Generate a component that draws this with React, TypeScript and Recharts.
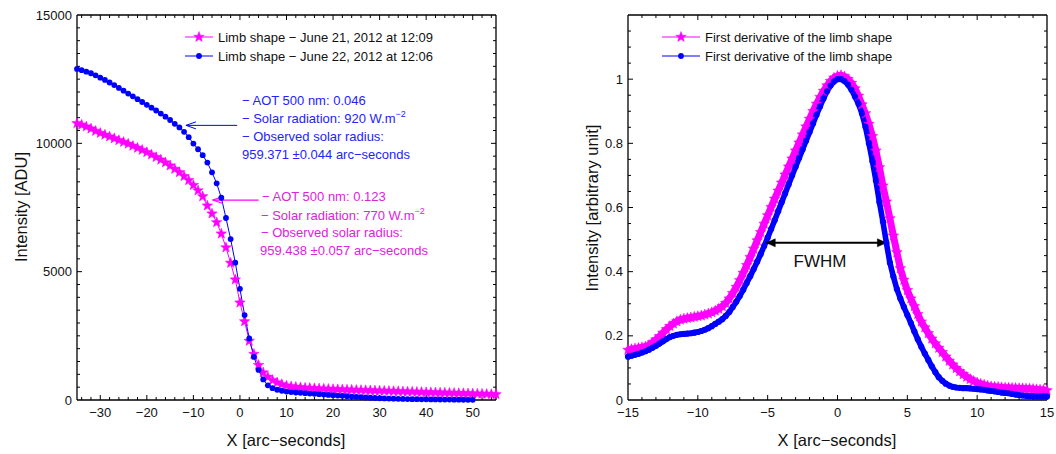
import React from "react";
import { LineChart, Line, XAxis, YAxis, ReferenceLine } from "recharts";

const MAGENTA = "#ff00ff";
const BLUE = "#0000ff";
const MAGENTA_TEXT = "#dd22dd";
const BLUE_TEXT = "#2323ff";
const FONT = "'Liberation Sans', Arial, Helvetica, sans-serif";

// ---- left panel: limb shapes ----
const LIMB_X_21 = [
  -35, -34, -33, -32, -31, -30, -29, -28, -27, -26, -25, -24, -23, -22, -21, -20, -19, -18, -17, -16,
  -15, -14, -13, -12, -11, -10, -9, -8, -7, -6, -5, -4, -3, -2, -1, 0, 1, 2, 3, 4, 5, 6, 7, 8, 9, 10,
  11, 12, 13, 14, 15, 16, 17, 18, 19, 20, 21, 22, 23, 24, 25, 26, 27, 28, 29, 30, 31, 32, 33, 34, 35,
  36, 37, 38, 39, 40, 41, 42, 43, 44, 45, 46, 47, 48, 49, 50, 51, 52, 53, 54, 55,
];
const LIMB_21 = [
  10780, 10720, 10650, 10570, 10480, 10400, 10330, 10260, 10190, 10120, 10050, 9980, 9900, 9820, 9740,
  9650, 9560, 9460, 9360, 9250, 9130, 9000, 8870, 8720, 8560, 8370, 8160, 7930, 7570, 7260, 6920, 6480,
  5940, 5340, 4690, 3790, 3060, 2300, 1790, 1360, 1070, 900, 770, 680, 610, 560, 530, 505, 490, 475,
  465, 455, 446, 437, 428, 420, 414, 408, 401, 395, 390, 384, 378, 372, 366, 360, 354, 348, 343, 337,
  331, 325, 319, 313, 307, 301, 296, 291, 286, 281, 276, 270, 265, 260, 255, 250, 244, 238, 232, 226, 220,
];
const LIMB_X_22 = [
  -35, -34, -33, -32, -31, -30, -29, -28, -27, -26, -25, -24, -23, -22, -21, -20, -19, -18, -17, -16,
  -15, -14, -13, -12, -11, -10, -9, -8, -7, -6, -5, -4, -3, -2, -1, 0, 1, 2, 3, 4, 5, 6, 7, 8, 9, 10,
  11, 12, 13, 14, 15, 16, 17, 18, 19, 20, 21, 22, 23, 24, 25, 26, 27, 28, 29, 30, 31, 32, 33, 34, 35,
  36, 37, 38, 39, 40, 41, 42, 43, 44, 45, 46, 47, 48, 49, 50,
];
const LIMB_22 = [
  12900, 12850, 12790, 12730, 12650, 12560, 12470, 12370, 12270, 12160, 12050, 11940, 11830, 11720,
  11610, 11500, 11390, 11280, 11160, 11040, 10910, 10760, 10620, 10450, 10240, 9990, 9770, 9540, 9250,
  8870, 8440, 7880, 7090, 6270, 5350, 4330, 3310, 2400, 1680, 1170, 800, 570, 460, 400, 360, 330, 310,
  293, 278, 264, 252, 240, 226, 212, 199, 186, 174, 162, 148, 134, 122, 110, 98, 88, 78, 68, 62, 56, 50,
  45, 40, 37, 34, 31, 28, 25, 23, 21, 19, 17, 15, 13, 11, 9, 7, 5,
];

// ---- right panel: first derivatives ----
const DERIV_X = [
  -15, -14.75, -14.5, -14.25, -14, -13.75, -13.5, -13.25, -13, -12.75, -12.5, -12.25, -12, -11.75, -11.5,
  -11.25, -11, -10.75, -10.5, -10.25, -10, -9.75, -9.5, -9.25, -9, -8.75, -8.5, -8.25, -8, -7.75, -7.5,
  -7.25, -7, -6.75, -6.5, -6.25, -6, -5.75, -5.5, -5.25, -5, -4.75, -4.5, -4.25, -4, -3.75, -3.5, -3.25,
  -3, -2.75, -2.5, -2.25, -2, -1.75, -1.5, -1.25, -1, -0.75, -0.5, -0.25, 0, 0.25, 0.5, 0.75, 1, 1.25,
  1.5, 1.75, 2, 2.25, 2.5, 2.75, 3, 3.25, 3.5, 3.75, 4, 4.25, 4.5, 4.75, 5, 5.25, 5.5, 5.75, 6, 6.25,
  6.5, 6.75, 7, 7.25, 7.5, 7.75, 8, 8.25, 8.5, 8.75, 9, 9.25, 9.5, 9.75, 10, 10.25, 10.5, 10.75, 11,
  11.25, 11.5, 11.75, 12, 12.25, 12.5, 12.75, 13, 13.25, 13.5, 13.75, 14, 14.25, 14.5, 14.75, 15,
];
const DERIV_21 = [
  0.156, 0.158, 0.16, 0.162, 0.164, 0.166, 0.171, 0.179, 0.188, 0.198, 0.209, 0.22, 0.23, 0.238, 0.245,
  0.25, 0.253, 0.255, 0.257, 0.259, 0.261, 0.263, 0.266, 0.269, 0.273, 0.278, 0.284, 0.292, 0.302, 0.316,
  0.333, 0.352, 0.373, 0.396, 0.42, 0.445, 0.471, 0.497, 0.523, 0.549, 0.575, 0.601, 0.627, 0.652, 0.677,
  0.702, 0.727, 0.752, 0.777, 0.802, 0.827, 0.852, 0.876, 0.9, 0.923, 0.944, 0.963, 0.98, 0.994, 1.004,
  1.01, 1.012, 1.008, 1.0, 0.988, 0.971, 0.948, 0.921, 0.893, 0.86, 0.822, 0.777, 0.725, 0.668, 0.618,
  0.566, 0.512, 0.46, 0.41, 0.374, 0.342, 0.316, 0.292, 0.267, 0.244, 0.226, 0.208, 0.191, 0.176, 0.162,
  0.149, 0.135, 0.122, 0.11, 0.099, 0.089, 0.08, 0.072, 0.065, 0.059, 0.054, 0.05, 0.047, 0.044, 0.042,
  0.041, 0.04, 0.039, 0.038, 0.038, 0.037, 0.037, 0.036, 0.036, 0.035, 0.035, 0.034, 0.033, 0.032, 0.031,
  0.03,
];
const DERIV_22 = [
  0.135, 0.138, 0.141, 0.144, 0.148, 0.152, 0.157, 0.163, 0.169, 0.176, 0.183, 0.19, 0.196, 0.2, 0.203,
  0.205, 0.206, 0.207, 0.208, 0.21, 0.212, 0.215, 0.219, 0.224, 0.23, 0.237, 0.244, 0.252, 0.262, 0.274,
  0.29, 0.306, 0.324, 0.344, 0.365, 0.386, 0.408, 0.431, 0.455, 0.48, 0.506, 0.533, 0.56, 0.588, 0.616,
  0.644, 0.672, 0.7, 0.727, 0.754, 0.781, 0.808, 0.835, 0.862, 0.889, 0.915, 0.94, 0.962, 0.98, 0.993,
  1.0, 1.0, 0.994, 0.983, 0.967, 0.946, 0.923, 0.893, 0.852, 0.8, 0.744, 0.684, 0.617, 0.556, 0.49,
  0.428, 0.385, 0.346, 0.316, 0.29, 0.265, 0.24, 0.214, 0.189, 0.166, 0.145, 0.125, 0.105, 0.087, 0.071,
  0.06, 0.051, 0.045, 0.041, 0.039, 0.038, 0.037, 0.037, 0.036, 0.035, 0.034, 0.033, 0.032, 0.03, 0.028,
  0.027, 0.025, 0.023, 0.022, 0.021, 0.019, 0.017, 0.015, 0.014, 0.013, 0.012, 0.012, 0.011, 0.011,
  0.011, 0.011,
];

// tick labels
const LEFT_X_MAJOR = [-30, -20, -10, 0, 10, 20, 30, 40, 50];
const LEFT_Y_MAJOR = [0, 5000, 10000, 15000];
const RIGHT_X_MAJOR = [-15, -10, -5, 0, 5, 10, 15];
const RIGHT_Y_MAJOR = [0, 0.2, 0.4, 0.6, 0.8, 1];

const limb21 = LIMB_X_21.map((x, i) => ({ x, y: LIMB_21[i] }));
const limb22 = LIMB_X_22.map((x, i) => ({ x, y: LIMB_22[i] }));
const deriv21 = DERIV_X.map((x, i) => ({ x, y: DERIV_21[i] }));
const deriv22 = DERIV_X.map((x, i) => ({ x, y: DERIV_22[i] }));

function range(a: number, b: number, step: number) {
  const out: number[] = [];
  for (let v = a; v <= b + 1e-9; v += step) out.push(Math.round(v * 1000) / 1000);
  return out;
}

const isMajor = (majors: number[], v: number) => majors.some((m) => Math.abs(m - v) < 1e-6);
const fmt = (v: number) => (v < 0 ? "\u2212" + Math.abs(v) : String(v));

// labels only (default tickSize 6 + tickMargin 2 puts props 8px off the axis line)
function labelTick(side: "bottom" | "left") {
  return (props: any) => {
    const v = props.payload.value;
    const x = Number(props.x);
    const y = Number(props.y);
    if (side === "bottom")
      return (
        <text x={x} y={y + 9} textAnchor="middle" fontSize={13} fill="#111" fontFamily={FONT}>
          {fmt(v)}
        </text>
      );
    return (
      <text x={x + 3} y={y + 4.5} textAnchor="end" fontSize={13} fill="#111" fontFamily={FONT}>
        {fmt(v)}
      </text>
    );
  };
}

// inward tick stubs at both ends of a full-height / full-width segment
function stubShape(vertical: boolean, major: boolean) {
  const len = major ? 5 : 3;
  return (p: any) => {
    const x1 = Number(p.x1), y1 = Number(p.y1), x2 = Number(p.x2), y2 = Number(p.y2);
    if (vertical) {
      const top = Math.min(y1, y2);
      const bot = Math.max(y1, y2);
      return (
        <g>
          <line x1={x1} y1={bot} x2={x1} y2={bot - len} stroke="#000" strokeWidth={1} />
          <line x1={x1} y1={top} x2={x1} y2={top + len} stroke="#000" strokeWidth={1} />
        </g>
      );
    }
    const l = Math.min(x1, x2);
    const r = Math.max(x1, x2);
    return (
      <g>
        <line x1={l} y1={y1} x2={l + len} y2={y1} stroke="#000" strokeWidth={1} />
        <line x1={r} y1={y1} x2={r - len} y2={y1} stroke="#000" strokeWidth={1} />
      </g>
    );
  };
}

const boxEdge = (p: any) => <line x1={p.x1} y1={p.y1} x2={p.x2} y2={p.y2} stroke="#000" strokeWidth={1.3} />;

function starPoints(cx: number, cy: number, R: number, r: number) {
  const pts: string[] = [];
  for (let k = 0; k < 10; k++) {
    const a = -Math.PI / 2 + (k * Math.PI) / 5;
    const rad = k % 2 === 0 ? R : r;
    pts.push(`${cx + rad * Math.cos(a)},${cy + rad * Math.sin(a)}`);
  }
  return pts.join(" ");
}

function Star({ cx, cy, R = 5.5, r = 2.3 }: { cx: number; cy: number; R?: number; r?: number }) {
  return <polygon points={starPoints(cx, cy, R, r)} fill={MAGENTA} stroke={MAGENTA} strokeWidth={0.5} />;
}

function arrowShape(color: string, width: number, both: boolean, filled: boolean, hl: number, hw: number) {
  return (p: any) => {
    const { x1, y1, x2, y2 } = p;
    const ang = Math.atan2(y2 - y1, x2 - x1);
    const head = (tx: number, ty: number, a: number, key: string) => {
      const bx = tx - hl * Math.cos(a);
      const by = ty - hl * Math.sin(a);
      const px = -Math.sin(a) * hw;
      const py = Math.cos(a) * hw;
      if (filled)
        return (
          <polygon key={key} points={`${tx},${ty} ${bx + px},${by + py} ${bx - px},${by - py}`} fill={color} stroke={color} strokeWidth={0.5} />
        );
      return (
        <polyline key={key} points={`${bx + px},${by + py} ${tx},${ty} ${bx - px},${by - py}`} fill="none" stroke={color} strokeWidth={width} />
      );
    };
    return (
      <g>
        <line x1={x1} y1={y1} x2={x2} y2={y2} stroke={color} strokeWidth={width} />
        {head(x2, y2, ang, "e")}
        {both ? head(x1, y1, ang + Math.PI, "s") : null}
      </g>
    );
  };
}

function boxAndTicks(
  xt: number[], yt: number[], xMaj: number[], yMaj: number[],
  x0: number, x1: number, y0: number, y1: number,
) {
  return [
    ...xt.map((v) => (
      <ReferenceLine key={`tx${v}`} segment={[{ x: v, y: y0 }, { x: v, y: y1 }]} shape={stubShape(true, isMajor(xMaj, v))} />
    )),
    ...yt.map((v) => (
      <ReferenceLine key={`ty${v}`} segment={[{ x: x0, y: v }, { x: x1, y: v }]} shape={stubShape(false, isMajor(yMaj, v))} />
    )),
    <ReferenceLine key="boxTop" segment={[{ x: x0, y: y1 }, { x: x1, y: y1 }]} shape={boxEdge} />,
    <ReferenceLine key="boxRight" segment={[{ x: x1, y: y0 }, { x: x1, y: y1 }]} shape={boxEdge} />,
  ];
}

function LeftChart() {
  const xt = range(-34, 54, 2);
  const yt = range(500, 14500, 500);
  return (
    <LineChart width={520} height={454} margin={{ top: 15, right: 24, bottom: 14, left: 17 }}>
      <XAxis type="number" dataKey="x" domain={[-35, 55]} ticks={LEFT_X_MAJOR} height={40} tickLine={false} axisLine={{ stroke: "#000", strokeWidth: 1.3 }} tick={labelTick("bottom")} />
      <YAxis type="number" dataKey="y" domain={[0, 15000]} ticks={LEFT_Y_MAJOR} width={60} tickLine={false} axisLine={{ stroke: "#000", strokeWidth: 1.3 }} tick={labelTick("left")} />
      {boxAndTicks(xt, yt, LEFT_X_MAJOR, LEFT_Y_MAJOR, -35, 55, 0, 15000)}
      <Line
        data={limb21}
        dataKey="y"
        stroke={MAGENTA}
        strokeWidth={1}
        isAnimationActive={false}
        activeDot={false}
        dot={(p: any) => <Star key={`a${p.index}`} cx={p.cx} cy={p.cy} />}
      />
      <Line
        data={limb22}
        dataKey="y"
        stroke={BLUE}
        strokeWidth={1}
        isAnimationActive={false}
        activeDot={false}
        dot={(p: any) => <circle key={`b${p.index}`} cx={p.cx} cy={p.cy} r={2.9} fill={BLUE} stroke="none" />}
      />
      <ReferenceLine
        segment={[{ x: -0.6, y: 10700 }, { x: -11.6, y: 10700 }]}
        shape={arrowShape(BLUE, 1, false, false, 10, 3.5)}
      />
      <ReferenceLine
        segment={[{ x: 4.0, y: 7790 }, { x: -5.8, y: 7790 }]}
        shape={arrowShape(MAGENTA, 1.2, false, false, 10, 3.5)}
      />
    </LineChart>
  );
}

function RightChart() {
  const xt = range(-14, 14, 1);
  const yt = range(0.05, 1.15, 0.05);
  return (
    <LineChart width={528} height={454} margin={{ top: 15, right: 9, bottom: 14, left: 40 }}>
      <XAxis type="number" dataKey="x" domain={[-15, 15]} ticks={RIGHT_X_MAJOR} height={40} tickLine={false} axisLine={{ stroke: "#000", strokeWidth: 1.3 }} tick={labelTick("bottom")} />
      <YAxis type="number" dataKey="y" domain={[0, 1.2]} ticks={RIGHT_Y_MAJOR} width={60} tickLine={false} axisLine={{ stroke: "#000", strokeWidth: 1.3 }} tick={labelTick("left")} />
      {boxAndTicks(xt, yt, RIGHT_X_MAJOR, RIGHT_Y_MAJOR, -15, 15, 0, 1.2)}
      <Line
        data={deriv21}
        dataKey="y"
        stroke={MAGENTA}
        strokeWidth={7}
        strokeLinejoin="round"
        isAnimationActive={false}
        activeDot={false}
        dot={(p: any) => <Star key={`c${p.index}`} cx={p.cx} cy={p.cy} R={5.6} r={2.4} />}
      />
      <Line
        data={deriv22}
        dataKey="y"
        stroke={BLUE}
        strokeWidth={5.6}
        strokeLinejoin="round"
        isAnimationActive={false}
        activeDot={false}
        dot={(p: any) => <circle key={`d${p.index}`} cx={p.cx} cy={p.cy} r={3.1} fill={BLUE} stroke="none" />}
      />
      <ReferenceLine
        segment={[{ x: -5.1, y: 0.49 }, { x: 3.5, y: 0.49 }]}
        shape={arrowShape("#000", 2, true, true, 9, 4)}
      />
    </LineChart>
  );
}

function LegendRow({ x1, x2, tx, y, kind, label }: { x1: number; x2: number; tx: number; y: number; kind: "star" | "dot"; label: string }) {
  const cx = (x1 + x2) / 2;
  const color = kind === "star" ? MAGENTA : BLUE;
  return (
    <g>
      <line x1={x1} y1={y} x2={x2} y2={y} stroke={color} strokeWidth={1} />
      {kind === "star" ? <Star cx={cx} cy={y} /> : <circle cx={cx} cy={y} r={2.9} fill={BLUE} />}
      <text x={tx} y={y + 4.5} fontSize={13} fill="#111">
        {label}
      </text>
    </g>
  );
}

function Overlay() {
  return (
    <svg width={1056} height={454} style={{ position: "absolute", left: 0, top: 0, pointerEvents: "none" }} fontFamily={FONT}>
      {/* legends */}
      <LegendRow x1={185} x2={213} tx={218} y={37} kind="star" label={"Limb shape \u2212 June 21, 2012 at 12:09"} />
      <LegendRow x1={185} x2={213} tx={218} y={56} kind="dot" label={"Limb shape \u2212 June 22, 2012 at 12:06"} />
      <LegendRow x1={662} x2={700} tx={705} y={37} kind="star" label="First derivative of the limb shape" />
      <LegendRow x1={662} x2={700} tx={705} y={56} kind="dot" label="First derivative of the limb shape" />

      {/* annotations, 22 June */}
      <g fill={BLUE_TEXT} fontSize={13}>
        <text x={242} y={104.5}>{"\u2212 AOT 500 nm: 0.046"}</text>
        <text x={242} y={123}>
          {"\u2212 Solar radiation: 920 W.m"}
          <tspan fontSize={9} dy={-6}>{"\u22122"}</tspan>
        </text>
        <text x={242} y={141}>{"\u2212 Observed solar radius:"}</text>
        <text x={242} y={158.5}>{"959.371 \u00b10.044 arc\u2212seconds"}</text>
      </g>

      {/* annotations, 21 June */}
      <g fill={MAGENTA_TEXT} fontSize={13}>
        <text x={262} y={200.5}>{"\u2212 AOT 500 nm: 0.123"}</text>
        <text x={261} y={219.5}>
          {"\u2212 Solar radiation: 770 W.m"}
          <tspan fontSize={9} dy={-6}>{"\u22122"}</tspan>
        </text>
        <text x={261} y={236.5}>{"\u2212 Observed solar radius:"}</text>
        <text x={260} y={254.5}>{"959.438 \u00b10.057 arc\u2212seconds"}</text>
      </g>

      <text x={820} y={267} textAnchor="middle" fontSize={17} fill="#111">FWHM</text>

      {/* axis titles */}
      <text x={286} y={446} textAnchor="middle" fontSize={16.5} fill="#111">X [arc{"\u2212"}seconds]</text>
      <text x={837} y={446} textAnchor="middle" fontSize={16.5} fill="#111">X [arc{"\u2212"}seconds]</text>
      <text transform="translate(27,207) rotate(-90)" textAnchor="middle" fontSize={16.5} fill="#111">Intensity [ADU]</text>
      <text transform="translate(598,208) rotate(-90)" textAnchor="middle" fontSize={16.5} fill="#111">Intensity [arbitrary unit]</text>
    </svg>
  );
}

export default function App() {
  return (
    <div style={{ position: "absolute", left: 0, top: 0, width: 1056, height: 454, background: "#fff", fontFamily: FONT }}>
      <div style={{ position: "absolute", left: 0, top: 0, width: 520, height: 454 }}>
        <LeftChart />
      </div>
      <div style={{ position: "absolute", left: 528, top: 0, width: 528, height: 454 }}>
        <RightChart />
      </div>
      <Overlay />
    </div>
  );
}
